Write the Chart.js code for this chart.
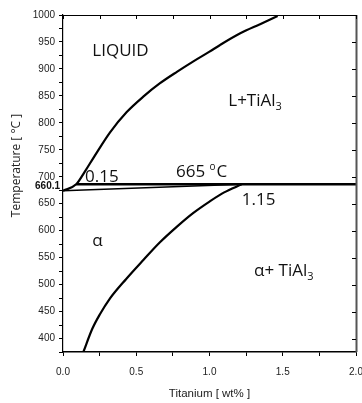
<!DOCTYPE html>
<html><head><meta charset="utf-8">
<script src="https://cdn.jsdelivr.net/npm/chart.js@4.4.0/dist/chart.umd.min.js"></script>
<style>html,body{margin:0;padding:0;background:#fff;}canvas{display:block;}</style>
</head><body>
<canvas id="c" width="362" height="403"></canvas>
<script>
// ---- data ----
const liquidusTi = [0, 0.09, 0.15, 0.21, 0.32, 0.435, 0.55, 0.66, 0.78, 0.89, 1.0, 1.07, 1.21, 1.345, 1.465];
const liquidusT  = [674, 686, 710, 736, 782, 820, 849, 873, 895, 914, 932, 944, 966, 983, 998];
const solidusTi  = [0, 1.22];
const solidusT   = [674, 686];
const peritecticTi = [0.09, 2.0];
const peritecticT  = [686, 686];
const solvusTi = [0.139, 0.2, 0.25, 0.32, 0.43, 0.55, 0.66, 0.78, 0.89, 1.0, 1.1, 1.22];
const solvusT  = [375, 418, 444, 474, 510, 546, 578, 608, 633, 654, 671, 686];
const xTickValues = [0, 0.5, 1.0, 1.5, 2.0];
const yTickValues = [400, 450, 500, 550, 600, 650, 700, 750, 800, 850, 900, 950, 1000];
const xTitle = 'Titanium [ wt% ]';
const yTitle = 'Temperature [ °C ]';
// annotation texts (parts: [text, kind])
const annotTexts = [
  [['LIQUID']],
  [['L+TiAl'], ['3', 'sub']],
  [['665 '], ['o', 'sup'], ['C']],
  [['0.15']],
  [['1.15']],
  [['α']],
  [['α+ TiAl'], ['3', 'sub']]
];
const annotTi = [0.20, 1.128, 0.771, 0.150, 1.22, 0.20, 1.304];
const annotT  = [924, 831, 700, 690, 648, 572, 516];
const meltText = '660.1';
const meltTi = -0.02, meltT = 677;

const toXY = (xs, ys) => xs.map((x, i) => ({x: x, y: ys[i]}));
const lineDs = (xs, ys, w, mono) => ({
  data: toXY(xs, ys), showLine: true, borderColor: '#000', borderWidth: w,
  pointRadius: 0, fill: false, cubicInterpolationMode: mono ? 'monotone' : 'default', tension: 0
});

const tickFont = {family: "'Liberation Sans', Arial, sans-serif", size: 10};

const decor = {
  id: 'decor',
  afterDatasetsDraw(chart) {
    const ctx = chart.ctx, a = chart.chartArea, xs = chart.scales.x, ys = chart.scales.y;
    ctx.save();
    // frame top & right
    ctx.strokeStyle = '#000'; ctx.lineWidth = 1.2;
    ctx.beginPath(); ctx.moveTo(a.left, a.top + 0.5); ctx.lineTo(a.right, a.top + 0.5); ctx.stroke();
    ctx.strokeStyle = '#555'; ctx.lineWidth = 2;
    ctx.beginPath(); ctx.moveTo(a.right + 0.5, a.top); ctx.lineTo(a.right + 0.5, a.bottom); ctx.stroke();
    // mirror ticks
    ctx.strokeStyle = '#000'; ctx.lineWidth = 1;
    xs.ticks.forEach(t => {
      const px = Math.round(xs.getPixelForValue(t.value)) + 0.5;
      ctx.beginPath(); ctx.moveTo(px, a.top); ctx.lineTo(px, a.top + 4); ctx.stroke();
    });
    ys.ticks.filter(t => yTickValues.includes(t.value)).forEach(t => {
      const py = Math.round(ys.getPixelForValue(t.value)) + 0.5;
      ctx.beginPath(); ctx.moveTo(a.right, py); ctx.lineTo(a.right - 4, py); ctx.stroke();
    });
    // annotations
    ctx.fillStyle = '#111'; ctx.textBaseline = 'alphabetic'; ctx.textAlign = 'left';
    const base = 17;
    annotTexts.forEach((parts, i) => {
      let x = xs.getPixelForValue(annotTi[i]);
      const y = ys.getPixelForValue(annotT[i]);
      parts.forEach(p => {
        let size = base, dy = 0;
        if (p[1] === 'sub') { size = 11; dy = 4; }
        if (p[1] === 'sup') { size = 10; dy = -7; }
        ctx.font = size + "px 'Open Sans', sans-serif";
        ctx.fillText(p[0], x, y + dy);
        x += ctx.measureText(p[0]).width + (p[1] === 'sup' ? 1 : 0);
      });
    });
    ctx.font = "bold 10px 'Liberation Sans', Arial, sans-serif";
    ctx.textAlign = 'right';
    ctx.fillText(meltText, xs.getPixelForValue(meltTi), ys.getPixelForValue(meltT));
    // y-axis title
    ctx.translate(17, (a.top + a.bottom) / 2 - 18);
    ctx.rotate(-Math.PI / 2);
    ctx.textAlign = 'center'; ctx.textBaseline = 'middle';
    ctx.fillStyle = '#222';
    ctx.font = "12px 'Open Sans', sans-serif";
    ctx.fillText(yTitle, 0, 0);
    ctx.restore();
  }
};

new Chart(document.getElementById('c'), {
  type: 'scatter',
  data: {
    datasets: [
      lineDs(liquidusTi, liquidusT, 2.2, true),
      lineDs(solidusTi, solidusT, 1.6, false),
      lineDs(peritecticTi, peritecticT, 2.6, false),
      lineDs(solvusTi, solvusT, 2.2, true)
    ]
  },
  options: {
    responsive: false,
    animation: false,
    layout: {padding: {top: 15, right: 6, left: 0, bottom: 0}},
    plugins: {legend: {display: false}, tooltip: {enabled: false}},
    scales: {
      x: {
        type: 'linear', min: 0, max: 2,
        ticks: {
          stepSize: 0.25, autoSkip: false, maxRotation: 0, padding: 10,
          color: '#222', font: tickFont,
          callback: v => xTickValues.some(t => Math.abs(t - v) < 1e-6) ? v.toFixed(1) : ''
        },
        grid: {drawOnChartArea: false, drawTicks: true, tickLength: 4, color: '#000'},
        border: {display: true, color: '#000', width: 1.4},
        title: {display: true, text: xTitle, color: '#222', padding: {top: 0, bottom: 2},
          font: {family: tickFont.family, size: 11.5}},
        afterFit(s) { s.height = 51; s.paddingLeft = 0; s.paddingRight = 0; }
      },
      y: {
        type: 'linear', min: 375, max: 1000,
        ticks: {
          stepSize: 25, autoSkip: false, padding: 4,
          color: '#222', font: tickFont,
          callback: v => yTickValues.includes(v) ? String(v) : ''
        },
        grid: {drawOnChartArea: false, drawTicks: true, tickLength: 4, color: '#000'},
        border: {display: true, color: '#000', width: 1.2},
        afterFit(s) { s.width = 63; s.paddingTop = 0; s.paddingBottom = 0; }
      }
    }
  },
  plugins: [decor]
});
</script>
</body></html>
